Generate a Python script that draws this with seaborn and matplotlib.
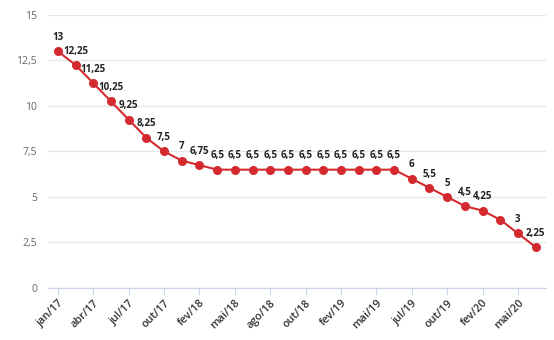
import matplotlib
matplotlib.use("Agg")
import matplotlib.pyplot as plt
import seaborn as sns
import pandas as pd

# Selic target rate at each Copom meeting (% a.a.)
meetings = ["jan/17", "fev/17", "abr/17", "mai/17", "jul/17", "set/17", "out/17", "dez/17",
            "fev/18", "mar/18", "mai/18", "jun/18", "ago/18", "set/18", "out/18", "dez/18",
            "fev/19", "mar/19", "mai/19", "jun/19", "jul/19", "set/19", "out/19", "dez/19",
            "fev/20", "mar/20", "mai/20", "jun/20"]
selic = [13, 12.25, 11.25, 10.25, 9.25, 8.25, 7.5, 7,
         6.75, 6.5, 6.5, 6.5, 6.5, 6.5, 6.5, 6.5,
         6.5, 6.5, 6.5, 6.5, 6, 5.5, 5, 4.5,
         4.25, 3.75, 3, 2.25]
show_label = [True] * len(selic)
show_label[25] = False  # 3,75 label hidden

y_ticks = [0, 2.5, 5, 7.5, 10, 12.5, 15]

def br(v):
    s = f"{v:g}"
    return s.replace(".", ",")

sns.set_theme(style="white")
plt.rcParams["font.family"] = ["Open Sans", "DejaVu Sans"]

df = pd.DataFrame({"pos": range(len(meetings)), "selic": selic})

fig = plt.figure(figsize=(5.54, 3.40), dpi=100)
ax = fig.add_axes([0.087, 0.153, 0.899, 0.803])

red = "#d42a2f"
sns.lineplot(data=df, x="pos", y="selic", ax=ax, color=red, linewidth=1.5,
             marker="o", markersize=6.5, markeredgewidth=0, zorder=3)

for i, (v, show) in enumerate(zip(selic, show_label)):
    if show:
        ax.annotate(br(v), (i, v), xytext=(0, 6), textcoords="offset points",
                    ha="center", va="bottom", fontsize=7, fontweight="bold",
                    color="#222222", zorder=4)

ax.set_xlim(-0.55, 27.6)
ax.set_ylim(0, 15)
ax.set_yticks(y_ticks)
ax.set_yticklabels([br(t) for t in y_ticks], color="#666666", fontsize=7.5)
ax.yaxis.grid(True, color="#e6e6e6", linewidth=0.9)
ax.set_axisbelow(True)

tick_pos = list(range(0, len(meetings), 2))
ax.set_xticks(tick_pos)
ax.set_xticklabels([meetings[i] for i in tick_pos], rotation=45, ha="right",
                   rotation_mode="anchor", color="#333333", fontsize=7.8,
                   fontweight="semibold")
ax.tick_params(axis="x", length=5, width=0.8, color="#ccd6eb", pad=2, bottom=True)
ax.tick_params(axis="y", length=0, pad=8)

for side in ["top", "right", "left"]:
    ax.spines[side].set_visible(False)
ax.spines["bottom"].set_color("#ccd6eb")
ax.spines["bottom"].set_linewidth(0.9)

ax.set_xlabel("")
ax.set_ylabel("")

fig.savefig("out.png", dpi=100, facecolor="white")
